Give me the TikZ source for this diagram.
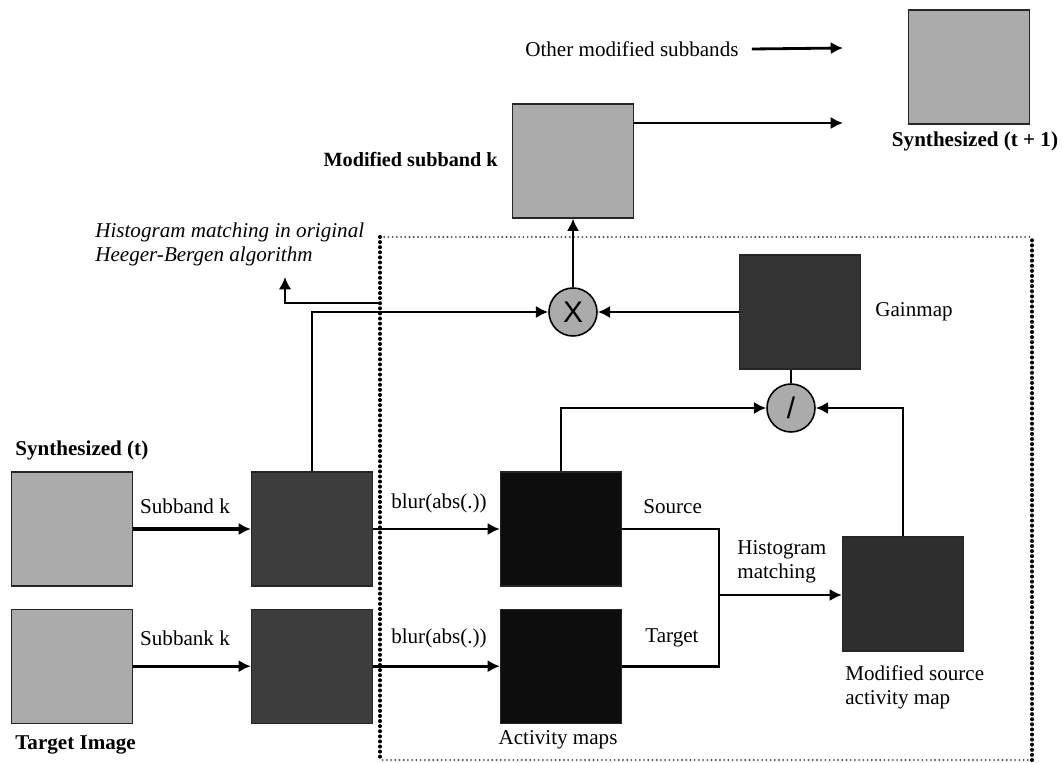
\documentclass[tikz,border=0pt]{standalone}
\usepackage{fontspec}
\setmainfont{Liberation Serif}
\setsansfont{Liberation Sans}
\usetikzlibrary{positioning}
\usetikzlibrary{arrows.meta}

\tikzset{
  img/.style={draw=black!85, line width=0.7pt, minimum width=2.42cm, minimum height=2.28cm, inner sep=0pt},
  lightimg/.style={img, fill=black!33},
  darkimg/.style={img, fill=black!76},
  blackimg/.style={img, fill=black!95},
  op/.style={draw, circle, fill=black!33, minimum size=0.96cm, inner sep=0pt, line width=0.9pt, font=\sffamily\fontsize{17}{17}\selectfont},
  conn/.style={line width=1.6pt},
  arr/.style={conn, -{Latex[length=7pt,width=7pt]}},
  lbl/.style={font=\fontsize{12}{13.6}\selectfont, inner sep=0pt},
  blbl/.style={font=\fontsize{12}{13.6}\selectfont\bfseries, inner sep=0pt},
  dotside/.style={line width=2.3pt, dash pattern=on 0pt off 2.9pt, line cap=round},
  dotedge/.style={line width=1.2pt, black!70, dash pattern=on 0pt off 2.4pt, line cap=round},
}

\begin{document}
\begin{tikzpicture}[x=0.02cm,y=-0.02cm]
\useasboundingbox (0,0) rectangle (1062,763);
% image boxes
\node[lightimg] (syn) at (72,529) {};
\node[lightimg, below = 0.44cm of syn] (tgt) {};
\node[darkimg] (sub1) at (312,529) {};
\node[darkimg, below = 0.44cm of sub1] (sub2) {};
\node[blackimg] (act1) at (561,529) {};
\node[blackimg, below = 0.44cm of act1] (act2) {};
\node[darkimg, fill=black!82] (modact) at (903,594) {};
\node[darkimg, fill=black!80] (gain) at (800,312) {};
\node[lightimg] (modsub) at (573,161) {};
\node[lightimg] (synnext) at (969,67) {};
% operators
\node[op] (mult) at (573,312) {X};
\node[op] (div) at (791,408) {/};
% labels
\node[blbl, anchor=west] (synlbl) at (15,450) {Synthesized (t)};
\node[blbl, anchor=west] (tgtlbl) at (15,745) {Target Image};
\node[blbl, anchor=east, font=\fontsize{11.5}{13.6}\selectfont\bfseries] (modsublbl) at (498,160) {Modified subband k};
\node[blbl] (synnextlbl) at (975,141) {Synthesized (t + 1)};
\node[lbl, anchor=west] (otherlbl) at (525,49) {Other modified subbands};
\node[lbl] (gainlbl) at (914,312) {Gainmap};
\node[lbl] (actlbl) at (558,740) {Activity maps};
\node[lbl, align=left, anchor=west] (modactlbl) at (845,687) {Modified source\\activity map};
\node[lbl, align=left, anchor=west] (histlbl) at (737,562) {Histogram\\matching};
\node[lbl, anchor=west] (srclbl) at (643,507) {Source};
\node[lbl, anchor=west] (tgtmlbl) at (645,638) {Target};
\node[lbl] (blur1) at (439,503) {blur(abs(.))};
\node[lbl] (blur2) at (439,638) {blur(abs(.))};
\node[lbl] (band1) at (185,506) {Subband k};
\node[lbl] (band2) at (185,638) {Subbank k};
\node[lbl, align=left, anchor=west, font=\fontsize{12}{13.6}\selectfont\itshape] (notelbl) at (95,244) {Histogram matching in original\\Heeger-Bergen algorithm};
% free ends
\coordinate (hm) at (719,595);
\coordinate (nextin) at (843,123);
\coordinate (otherend) at (843,48);
\coordinate (notefrom) at (380,303);
\coordinate (noteup) at (285,277);
% dotted frame
\coordinate (fa) at (380,237);
\coordinate (fb) at (1032,760);
\draw[dotedge] (fa) -- (fa -| fb);
\draw[dotedge] (fb) -- (fb -| fa);
\draw[dotside] (fa) -- (fa |- fb);
\draw[dotside] (fb) -- (fb |- fa);
% connectors
\draw[arr, line width=2.4pt] (syn) -- (sub1);
\draw[arr] (tgt) -- (sub2);
\draw[arr] (sub1) -- (act1);
\draw[arr] (sub2) -- (act2);
\draw[conn] (act1.east) -| (hm);
\draw[conn] (act2.east) -| (hm);
\draw[arr] (hm) -- (hm -| modact.west);
\draw[arr] (act1.north) |- (div.west);
\draw[arr] (modact.north) |- (div.east);
\draw[conn] (div.north) -- (div.north |- gain.south);
\draw[arr] (gain.west) -- (mult.east);
\draw[arr] (sub1.north) |- (mult.west);
\draw[arr] (mult.north) -- (modsub.south);
\draw[arr] (modsub.east |- nextin) -- (nextin);
\draw[arr] ([xshift=0.26cm]otherlbl.east) -- (otherend);
\draw[arr, line width=1pt] (notefrom) -| (noteup);
\end{tikzpicture}
\end{document}
